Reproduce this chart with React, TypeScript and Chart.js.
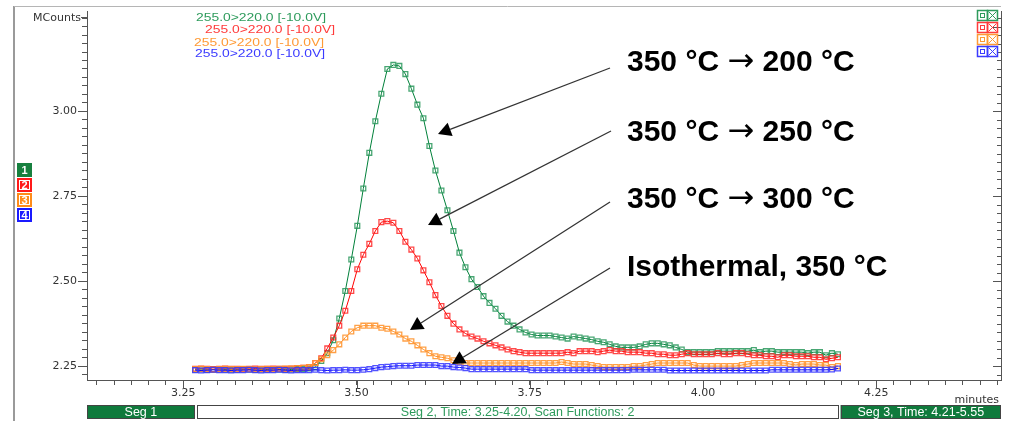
import React, { useEffect, useRef } from "react";
import { Chart, registerables } from "chart.js";

Chart.register(...registerables);

// ---- data ----
const START_MIN = 3.267;
const SCAN_STEP = 0.00867;

const GREEN_350_200 = [
  2.240, 2.241, 2.239, 2.240, 2.241, 2.240, 2.239, 2.240, 2.241, 2.240,
  2.239, 2.240, 2.240, 2.241, 2.240, 2.239, 2.240, 2.241, 2.241, 2.243,
  2.247, 2.265, 2.288, 2.326, 2.390, 2.471, 2.564, 2.663, 2.773, 2.878,
  2.971, 3.052, 3.125, 3.137, 3.134, 3.110, 3.067, 3.020, 2.980, 2.898,
  2.826, 2.767, 2.709, 2.648, 2.584, 2.541, 2.506, 2.483, 2.456, 2.436,
  2.419, 2.398, 2.381, 2.369, 2.358, 2.349, 2.343, 2.340, 2.340, 2.340,
  2.337, 2.334, 2.331, 2.337, 2.334, 2.331, 2.328, 2.323, 2.320, 2.314,
  2.308, 2.305, 2.305, 2.305, 2.308, 2.314, 2.317, 2.317, 2.314, 2.311,
  2.305, 2.299, 2.291, 2.291, 2.291, 2.291, 2.291, 2.294, 2.294, 2.294,
  2.294, 2.294, 2.294, 2.297, 2.291, 2.294, 2.294, 2.291, 2.291, 2.291,
  2.291, 2.291, 2.288, 2.291, 2.291, 2.282, 2.288, 2.285,
];
const RED_350_250 = [
  2.242, 2.243, 2.242, 2.241, 2.242, 2.243, 2.242, 2.242, 2.241, 2.242,
  2.243, 2.242, 2.242, 2.243, 2.242, 2.242, 2.243, 2.244, 2.245, 2.247,
  2.259, 2.273, 2.302, 2.334, 2.369, 2.413, 2.471, 2.535, 2.578, 2.610,
  2.648, 2.674, 2.677, 2.672, 2.648, 2.616, 2.593, 2.567, 2.532, 2.497,
  2.459, 2.427, 2.398, 2.375, 2.358, 2.346, 2.337, 2.331, 2.323, 2.317,
  2.311, 2.305, 2.299, 2.294, 2.291, 2.288, 2.288, 2.288, 2.288, 2.288,
  2.288, 2.288, 2.291, 2.288, 2.294, 2.294, 2.294, 2.291, 2.294, 2.297,
  2.294, 2.294, 2.291, 2.291, 2.291, 2.288, 2.288, 2.285, 2.285, 2.282,
  2.282, 2.285, 2.288, 2.285, 2.285, 2.285, 2.285, 2.288, 2.285, 2.285,
  2.288, 2.288, 2.285, 2.282, 2.282, 2.279, 2.279, 2.276, 2.282, 2.282,
  2.279, 2.279, 2.279, 2.276, 2.276, 2.270, 2.273, 2.276,
];
const ORANGE_350_300 = [
  2.241, 2.242, 2.241, 2.240, 2.241, 2.242, 2.241, 2.241, 2.242, 2.241,
  2.240, 2.241, 2.242, 2.241, 2.242, 2.243, 2.243, 2.244, 2.245, 2.247,
  2.259, 2.270, 2.282, 2.297, 2.314, 2.334, 2.352, 2.363, 2.369, 2.369,
  2.369, 2.363, 2.360, 2.352, 2.343, 2.331, 2.323, 2.311, 2.299, 2.288,
  2.279, 2.276, 2.273, 2.267, 2.262, 2.259, 2.259, 2.259, 2.259, 2.259,
  2.259, 2.259, 2.259, 2.259, 2.259, 2.259, 2.259, 2.259, 2.259, 2.259,
  2.259, 2.262, 2.259, 2.256, 2.256, 2.256, 2.253, 2.250, 2.247, 2.247,
  2.247, 2.247, 2.247, 2.250, 2.250, 2.253, 2.256, 2.259, 2.259, 2.259,
  2.259, 2.259, 2.259, 2.253, 2.250, 2.250, 2.250, 2.250, 2.250, 2.250,
  2.250, 2.253, 2.256, 2.259, 2.259, 2.259, 2.259, 2.259, 2.259, 2.256,
  2.253, 2.256, 2.256, 2.256, 2.253, 2.253, 2.247, 2.250,
];
const BLUE_ISO_350 = [
  2.238, 2.237, 2.238, 2.239, 2.238, 2.238, 2.237, 2.238, 2.238, 2.239,
  2.238, 2.237, 2.238, 2.238, 2.239, 2.238, 2.237, 2.238, 2.238, 2.238,
  2.239, 2.238, 2.237, 2.238, 2.238, 2.239, 2.238, 2.238, 2.239, 2.241,
  2.244, 2.247, 2.248, 2.250, 2.251, 2.251, 2.251, 2.253, 2.253, 2.253,
  2.253, 2.250, 2.250, 2.247, 2.246, 2.244, 2.241, 2.241, 2.241, 2.241,
  2.241, 2.241, 2.241, 2.241, 2.241, 2.241, 2.238, 2.238, 2.238, 2.238,
  2.238, 2.238, 2.238, 2.238, 2.238, 2.238, 2.238, 2.238, 2.238, 2.238,
  2.238, 2.238, 2.238, 2.239, 2.239, 2.239, 2.239, 2.239, 2.239, 2.237,
  2.237, 2.237, 2.237, 2.237, 2.237, 2.237, 2.237, 2.237, 2.237, 2.237,
  2.237, 2.237, 2.237, 2.237, 2.237, 2.237, 2.239, 2.239, 2.239, 2.239,
  2.239, 2.239, 2.239, 2.239, 2.239, 2.239, 2.240, 2.243,
];

const X_MIN = 3.111;
const X_MAX = 4.43;
const Y_MIN = 2.209;
const Y_MAX = 3.294;
const Y_LABEL_MAX = 3.0;
const Y_UNIT = "MCounts";
const X_UNIT = "minutes";
const TRACE_LABELS = [
  "255.0>220.0 [-10.0V]",
  "255.0>220.0 [-10.0V]",
  "255.0>220.0 [-10.0V]",
  "255.0>220.0 [-10.0V]",
];
const ANNOTATIONS = [
  "350 °C → 200 °C",
  "350 °C → 250 °C",
  "350 °C → 300 °C",
  "Isothermal, 350 °C",
];
const SEGMENTS = [
  "Seg 1",
  "Seg 2, Time: 3.25-4.20, Scan Functions: 2",
  "Seg 3, Time: 4.21-5.55",
];
const SEG_BOUNDS = [3.268, 4.197];

// ---- styles ----
const LINE_COLORS = ["#00803a", "#ff0000", "#ff8a1a", "#0000ff"];
const MARK_COLORS = [
  "rgba(40,150,90,0.85)",
  "rgba(255,40,40,0.85)",
  "rgba(255,150,50,0.9)",
  "rgba(50,50,255,0.85)",
];
const TEXT_COLORS = ["#2e9b5c", "#ff3b3b", "#ff9a35", "#3b3bff"];
const FONT = "'Liberation Sans', Arial, sans-serif";
const TICK_FONT = "'DejaVu Sans', Verdana, sans-serif";

const times = GREEN_350_200.map((_, i) => +(START_MIN + i * SCAN_STEP).toFixed(5));
const toXY = (vals: number[]) => vals.map((v, i) => ({ x: times[i], y: v }));

const buildMinorTicks = (scale: any) => {
  const t: any[] = [];
  for (let k = Math.ceil(scale.min * 40 - 1e-9); k <= Math.floor(scale.max * 40 + 1e-9); k++) {
    t.push({ value: k / 40 });
  }
  scale.ticks = t;
};
const isMajor = (v: number) => Math.abs(v * 4 - Math.round(v * 4)) < 1e-6;

// draw text, rendering the arrow glyph with a thinner font that has a centred arrow
const fillMixed = (ctx: CanvasRenderingContext2D, text: string, x: number, y: number) => {
  const parts = text.split("→");
  let cx = x;
  parts.forEach((p, i) => {
    ctx.font = `bold 30px ${FONT}`;
    ctx.fillText(p, cx, y);
    cx += ctx.measureText(p).width;
    if (i < parts.length - 1) {
      ctx.font = `32px 'DejaVu Sans', sans-serif`;
      ctx.fillText("→", cx, y);
      cx += ctx.measureText("→").width;
    }
  });
};

const decorPlugin = {
  id: "decor",
  afterDraw(chart: any) {
    const ctx: CanvasRenderingContext2D = chart.ctx;
    const { left, right, bottom } = chart.chartArea;
    const xs = chart.scales.x;
    const ys = chart.scales.y;
    ctx.save();

    // outer frame
    ctx.strokeStyle = "#9a9a9a";
    ctx.lineWidth = 2;
    ctx.beginPath();
    ctx.moveTo(14, 6);
    ctx.lineTo(14, 421);
    ctx.stroke();
    ctx.strokeStyle = "#b5b5b5";
    ctx.lineWidth = 1;
    ctx.beginPath();
    ctx.moveTo(14, 6.5);
    ctx.lineTo(right, 6.5);
    ctx.stroke();

    // major tick extensions + right axis ticks
    ctx.strokeStyle = "#555";
    ctx.lineWidth = 1;
    ctx.beginPath();
    for (let k = Math.ceil(Y_MIN * 40); k <= Math.floor(Y_MAX * 40); k++) {
      const v = k / 40;
      const py = Math.round(ys.getPixelForValue(v)) + 0.5;
      const major = isMajor(v);
      ctx.moveTo(right - (major ? 8 : 4), py);
      ctx.lineTo(right, py);
      if (major && v <= Y_LABEL_MAX + 1e-6) {
        ctx.moveTo(left - 9, py);
        ctx.lineTo(left, py);
      }
    }
    for (let k = Math.ceil(X_MIN * 4); k <= Math.floor(X_MAX * 4); k++) {
      const px = Math.round(xs.getPixelForValue(k / 4)) + 0.5;
      ctx.moveTo(px, bottom);
      ctx.lineTo(px, bottom + 9);
    }
    // unit tick at top
    ctx.moveTo(left - 6, 17.5);
    ctx.lineTo(left, 17.5);
    ctx.stroke();

    ctx.fillStyle = "#333";
    ctx.font = `11px ${TICK_FONT}`;
    ctx.textAlign = "right";
    ctx.textBaseline = "alphabetic";
    ctx.fillText(Y_UNIT, left - 6, 21);
    ctx.fillText(X_UNIT, right - 2, 403);

    // segment bar
    const segTop = 405;
    const segH = 14;
    const b1 = xs.getPixelForValue(SEG_BOUNDS[0]);
    const b2 = xs.getPixelForValue(SEG_BOUNDS[1]);
    const boxes = [
      [left, b1 - 1, true],
      [b1 + 1, b2 - 1, false],
      [b2 + 1, right, true],
    ] as [number, number, boolean][];
    ctx.font = `12.5px ${FONT}`;
    ctx.textAlign = "center";
    ctx.textBaseline = "middle";
    boxes.forEach(([x0, x1, filled], i) => {
      ctx.fillStyle = filled ? "#0f7a3c" : "#ffffff";
      ctx.fillRect(x0, segTop, x1 - x0, segH);
      ctx.strokeStyle = "#444";
      ctx.lineWidth = 1;
      ctx.strokeRect(Math.round(x0) + 0.5, segTop + 0.5, Math.round(x1 - x0) - 1, segH - 1);
      ctx.fillStyle = filled ? "#ffffff" : "#2e9b5c";
      ctx.fillText(SEGMENTS[i], (x0 + x1) / 2, segTop + segH / 2 + 0.5);
    });

    // trace labels
    const labelX = [196, 205, 194, 195];
    const labelY = [20.5, 32.5, 45.5, 57];
    ctx.textAlign = "left";
    ctx.textBaseline = "alphabetic";
    ctx.font = `11px ${FONT}`;
    TRACE_LABELS.forEach((t, i) => {
      const w = ctx.measureText(t).width;
      ctx.save();
      ctx.translate(labelX[i], labelY[i]);
      ctx.scale(130 / w, 1);
      ctx.fillStyle = TEXT_COLORS[i];
      ctx.fillText(t, 0, 0);
      ctx.restore();
    });

    // right-side trace boxes
    for (let i = 0; i < 4; i++) {
      const y0 = 10.5 + i * 12;
      const c = TEXT_COLORS[i];
      ctx.strokeStyle = c;
      ctx.lineWidth = 1.5;
      ctx.strokeRect(977.5, y0, 10, 10);
      ctx.strokeRect(987.5, y0, 10, 10);
      ctx.lineWidth = 1;
      ctx.strokeRect(980.5, y0 + 3, 4, 4);
      ctx.beginPath();
      ctx.moveTo(988.5, y0 + 1);
      ctx.lineTo(996.5, y0 + 9);
      ctx.moveTo(996.5, y0 + 1);
      ctx.lineTo(988.5, y0 + 9);
      ctx.stroke();
    }

    // left-side numbered boxes
    const boxFill = ["#17803f", "#ff1a1a", "#ff8c1a", "#1a1aff"];
    ctx.font = `bold 11px ${FONT}`;
    ctx.textAlign = "center";
    ctx.textBaseline = "middle";
    for (let i = 0; i < 4; i++) {
      const y0 = 163 + i * 15;
      ctx.fillStyle = boxFill[i];
      ctx.fillRect(17, y0, 15, 14);
      if (i > 0) {
        ctx.strokeStyle = "#fff";
        ctx.lineWidth = 1;
        ctx.strokeRect(19.5, y0 + 2.5, 10, 9);
      }
      ctx.fillStyle = "#fff";
      ctx.fillText(String(i + 1), 24.5, y0 + 7.5);
    }

    // annotations
    const arrows = [
      [610, 68, 438, 134],
      [611, 131, 428, 225],
      [610, 202, 410, 330],
      [610, 268, 452, 364],
    ];
    const textBase = [71, 141, 208, 276];
    ctx.textAlign = "left";
    ctx.textBaseline = "alphabetic";
    ctx.fillStyle = "#000";
    ANNOTATIONS.forEach((t, i) => fillMixed(ctx, t, 627, textBase[i]));
    arrows.forEach(([x0, y0, x1, y1]) => {
      const ang = Math.atan2(y1 - y0, x1 - x0);
      const L = 13;
      const W = 7;
      const bx = x1 - L * Math.cos(ang);
      const by = y1 - L * Math.sin(ang);
      ctx.strokeStyle = "#333";
      ctx.lineWidth = 1.3;
      ctx.beginPath();
      ctx.moveTo(x0, y0);
      ctx.lineTo(bx, by);
      ctx.stroke();
      ctx.fillStyle = "#000";
      ctx.beginPath();
      ctx.moveTo(x1, y1);
      ctx.lineTo(bx + W * Math.sin(ang), by - W * Math.cos(ang));
      ctx.lineTo(bx - W * Math.sin(ang), by + W * Math.cos(ang));
      ctx.closePath();
      ctx.fill();
    });

    ctx.restore();
  },
};

export default function App() {
  const canvasRef = useRef<HTMLCanvasElement | null>(null);

  useEffect(() => {
    document.body.style.margin = "0";
    const canvas = canvasRef.current;
    if (!canvas) return;
    const series = [GREEN_350_200, RED_350_250, ORANGE_350_300, BLUE_ISO_350];
    const chart = new Chart(canvas, {
      type: "line",
      data: {
        datasets: series.map((s, i) => ({
          data: toXY(s),
          borderColor: LINE_COLORS[i],
          borderWidth: 1,
          pointStyle: "rect",
          pointRadius: 3.4,
          pointBorderWidth: 1.3,
          pointBorderColor: MARK_COLORS[i],
          pointBackgroundColor: "rgba(255,255,255,0)",
          tension: 0,
          order: 3 - i,
        })),
      },
      options: {
        responsive: false,
        devicePixelRatio: 1,
        animation: false,
        events: [],
        layout: { padding: { top: 7, left: 0, right: 0, bottom: 0 } },
        plugins: { legend: { display: false }, tooltip: { enabled: false } },
        scales: {
          x: {
            type: "linear",
            min: X_MIN,
            max: X_MAX,
            afterBuildTicks: buildMinorTicks,
            afterFit: (s: any) => {
              s.height = 47;
            },
            border: { display: true, color: "#555", width: 1 },
            grid: { display: true, drawOnChartArea: false, drawTicks: true, tickLength: 5, color: "#555" },
            ticks: {
              autoSkip: false,
              maxRotation: 0,
              minRotation: 0,
              padding: 2,
              color: "#333",
              font: { family: TICK_FONT, size: 11 },
              callback: (v: any) => (isMajor(Number(v)) ? Number(v).toFixed(2) : ""),
            },
          },
          y: {
            type: "linear",
            position: "left",
            min: Y_MIN,
            max: Y_MAX,
            afterBuildTicks: buildMinorTicks,
            afterFit: (s: any) => {
              s.width = 87;
            },
            border: { display: true, color: "#555", width: 1 },
            grid: { display: true, drawOnChartArea: false, drawTicks: true, tickLength: 5, color: "#555" },
            ticks: {
              autoSkip: false,
              padding: 5,
              color: "#333",
              font: { family: TICK_FONT, size: 11 },
              callback: (v: any) => {
                const n = Number(v);
                return isMajor(n) && n <= Y_LABEL_MAX + 1e-6 ? n.toFixed(2) : "";
              },
            },
          },
          y2: {
            type: "linear",
            position: "right",
            min: Y_MIN,
            max: Y_MAX,
            afterFit: (s: any) => {
              s.width = 16;
            },
            border: { display: true, color: "#555", width: 1 },
            grid: { display: false, drawOnChartArea: false, drawTicks: false },
            ticks: { display: false },
          },
        },
      },
      plugins: [decorPlugin],
    } as any);
    return () => chart.destroy();
  }, []);

  return (
    <div style={{ width: 1017, height: 427, background: "#fff" }}>
      <canvas ref={canvasRef} width={1017} height={427} style={{ width: 1017, height: 427, display: "block" }} />
    </div>
  );
}
